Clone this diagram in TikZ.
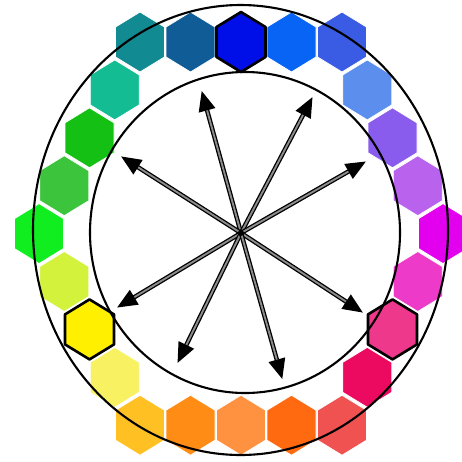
\documentclass[tikz,border=0pt]{standalone}
\usetikzlibrary{arrows.meta}
\definecolor{hA}{RGB}{18,138,146}
\definecolor{hB}{RGB}{16,92,150}
\definecolor{hC}{RGB}{0,14,232}
\definecolor{hD}{RGB}{8,100,244}
\definecolor{hE}{RGB}{58,92,228}
\definecolor{hF}{RGB}{92,142,238}
\definecolor{hG}{RGB}{138,92,238}
\definecolor{hH}{RGB}{184,98,238}
\definecolor{hI}{RGB}{226,0,238}
\definecolor{hJ}{RGB}{238,58,200}
\definecolor{hK}{RGB}{238,56,140}
\definecolor{hL}{RGB}{236,10,96}
\definecolor{hM}{RGB}{240,82,82}
\definecolor{hN}{RGB}{255,106,16}
\definecolor{hO}{RGB}{255,146,64}
\definecolor{hP}{RGB}{255,140,20}
\definecolor{hQ}{RGB}{255,192,36}
\definecolor{hR}{RGB}{248,242,98}
\definecolor{hS}{RGB}{255,240,0}
\definecolor{hT}{RGB}{210,242,60}
\definecolor{hU}{RGB}{16,238,32}
\definecolor{hV}{RGB}{60,196,60}
\definecolor{hW}{RGB}{20,192,20}
\definecolor{hX}{RGB}{20,188,148}
\tikzset{
  hexcell/.style={draw=white, line width=0.8pt},
  hexbold/.style={draw=black, line width=2.6pt, line join=round},
  ring/.style={draw=black, line width=2.1pt},
  ray/.style={draw=black, line width=1.3pt, double=black!45, double distance=1.9pt,
    -{Triangle[length=20pt,width=17pt]}, shorten >=-1pt}
}
\newcommand\hexcellat[4]{%
  \begin{scope}[shift={(#1,#2)}]
    \path[#4, fill=#3] (-24.5,-15) -- (0,-30) -- (24.5,-15) -- (24.5,15) -- (0,30) -- (-24.5,15) -- cycle;
  \end{scope}}
\begin{document}
\begin{tikzpicture}[x=1pt,y=-1pt]
\useasboundingbox (0,0) rectangle (462,461);
\fill[white] (0,0) rectangle (462,461);
% hexagon ring: row / half-column / colour
\foreach \r/\k/\c in {0/-4/hA,0/-2/hB,0/2/hD,0/4/hE,
  1/5/hF,2/6/hG,3/7/hH,4/8/hI,5/7/hJ,7/5/hL,
  8/4/hM,8/2/hN,8/0/hO,8/-2/hP,8/-4/hQ,
  7/-5/hR,5/-7/hT,4/-8/hU,3/-7/hV,2/-6/hW,1/-5/hX}{
  \pgfmathsetmacro\hx{241+\k*25.25}
  \pgfmathsetmacro\hy{42+\r*47.9}
  \hexcellat{\hx}{\hy}{\c}{hexcell}
}
% highlighted cells
\hexcellat{241}{42}{hC}{hexbold}
\hexcellat{89.5}{329.4}{hS}{hexbold}
\hexcellat{392.5}{329.4}{hK}{hexbold}
% rings
\draw[ring] (240.5,230) ellipse [x radius=207.5, y radius=225];
\draw[ring] (245,232.5) ellipse [x radius=155, y radius=160.5];
% arrows
\coordinate (ctr) at (241,233);
\coordinate (t1) at (202,92);
\coordinate (t2) at (312,98);
\coordinate (t3) at (122,157);
\coordinate (t4) at (365,162);
\coordinate (t5) at (118,307);
\coordinate (t6) at (362,312);
\coordinate (t7) at (178,362);
\coordinate (t8) at (282,378);
\foreach \t in {t1,t2,t3,t4,t5,t6,t7,t8}{
  \draw[ray] (ctr) -- (\t);
}
\fill[black] (ctr) circle (3);
\end{tikzpicture}
\end{document}
